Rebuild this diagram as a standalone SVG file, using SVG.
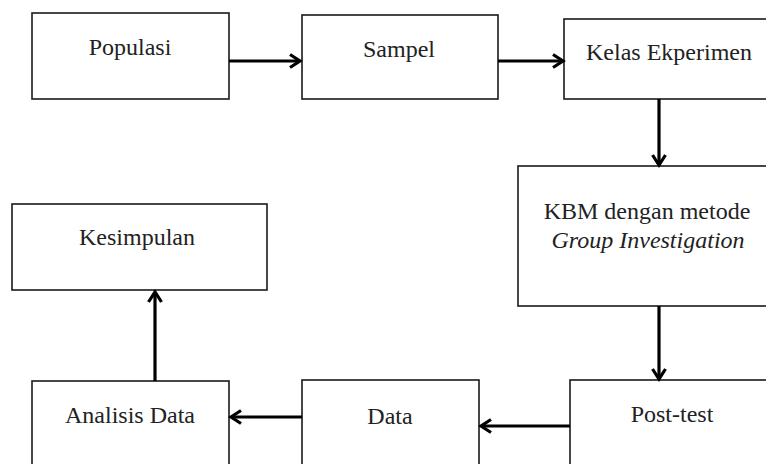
<svg xmlns="http://www.w3.org/2000/svg" width="766" height="464" viewBox="0 0 766 464">
<style>
.box{fill:#fff;stroke:#1a1a1a;stroke-width:1.6}
.lbl{font-family:'Liberation Serif','Times New Roman','DejaVu Serif',serif;font-size:24px;fill:#222;text-anchor:middle}
.it{font-style:italic}
.con{fill:none;stroke:#000;stroke-width:3.2}
</style>
<defs>
<marker id="ah" markerUnits="userSpaceOnUse" markerWidth="16" markerHeight="16" refX="12" refY="8" orient="auto" overflow="visible">
<path d="M2,1.5 L12,8 L2,14.5" fill="none" stroke="#000" stroke-width="3.2" stroke-linejoin="miter"/>
</marker>
</defs>
<rect width="766" height="464" fill="#fff"/>
<g id="populasi"><rect class="box" x="32" y="13" width="197" height="86"/><text class="lbl" x="130" y="55" font-family="Liberation Serif, serif">Populasi</text></g>
<g id="sampel"><rect class="box" x="302" y="15" width="196" height="84"/><text class="lbl" x="399" y="57" font-family="Liberation Serif, serif">Sampel</text></g>
<g id="kelas"><rect class="box" x="564" y="19" width="210" height="80"/><text class="lbl" x="669" y="60" font-family="Liberation Serif, serif">Kelas Ekperimen</text></g>
<g id="kbm"><rect class="box" x="518" y="166" width="258" height="140"/><text class="lbl" x="647" y="219" font-family="Liberation Serif, serif">KBM dengan metode</text><text class="lbl it" x="648" y="248" font-family="Liberation Serif, serif">Group Investigation</text></g>
<g id="posttest"><rect class="box" x="570" y="380" width="210" height="100"/><text class="lbl" x="672" y="422" font-family="Liberation Serif, serif">Post-test</text></g>
<g id="data"><rect class="box" x="302" y="380" width="177" height="100"/><text class="lbl" x="390" y="424" font-family="Liberation Serif, serif">Data</text></g>
<g id="analisis"><rect class="box" x="32" y="381" width="197" height="100"/><text class="lbl" x="130" y="423" font-family="Liberation Serif, serif">Analisis Data</text></g>
<g id="kesimpulan"><rect class="box" x="12" y="204" width="255" height="86"/><text class="lbl" x="137" y="245" font-family="Liberation Serif, serif">Kesimpulan</text></g>
<g id="connectors">
<line class="con" x1="229" y1="61" x2="300" y2="61" marker-end="url(#ah)"/>
<line class="con" x1="498" y1="61" x2="563" y2="61" marker-end="url(#ah)"/>
<line class="con" x1="659" y1="99" x2="659" y2="165" marker-end="url(#ah)"/>
<line class="con" x1="659" y1="306" x2="659" y2="379" marker-end="url(#ah)"/>
<line class="con" x1="570" y1="426" x2="481" y2="426" marker-end="url(#ah)"/>
<line class="con" x1="302" y1="417" x2="231" y2="417" marker-end="url(#ah)"/>
<line class="con" x1="155" y1="381" x2="155" y2="292" marker-end="url(#ah)"/>
</g>
</svg>
